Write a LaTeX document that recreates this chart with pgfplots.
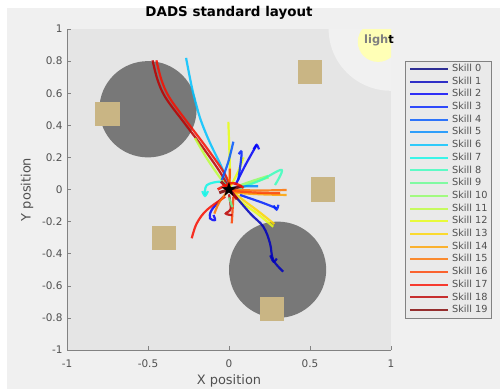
\documentclass[border=0pt]{standalone}
\usepackage{pgfplots}
\pgfplotsset{compat=1.18}
\usepackage{fontspec}
\setmainfont{DejaVu Sans}
\newfontfamily\symfont{DejaVu Sans}
\definecolor{figbg}{RGB}{240,240,240}
\definecolor{axbg}{RGB}{229,229,229}
\definecolor{lightbg}{RGB}{241,241,241}
\definecolor{lightyel}{RGB}{255,255,182}
\definecolor{obst}{RGB}{120,120,120}
\definecolor{box}{RGB}{201,181,132}
\definecolor{axgray}{RGB}{130,130,130}
\definecolor{txtgray}{RGB}{80,80,80}
\definecolor{legbg}{RGB}{234,234,234}
\definecolor{s0}{rgb}{0,0,0.5}
\definecolor{s1}{rgb}{0,0,0.74}
\definecolor{s2}{rgb}{0,0,0.98}
\definecolor{s3}{rgb}{0,0.13,1}
\definecolor{s4}{rgb}{0,0.34,1}
\definecolor{s5}{rgb}{0,0.55,1}
\definecolor{s6}{rgb}{0,0.76,1}
\definecolor{s7}{rgb}{0.06,0.97,0.91}
\definecolor{s8}{rgb}{0.23,1,0.74}
\definecolor{s9}{rgb}{0.40,1,0.57}
\definecolor{s10}{rgb}{0.57,1,0.40}
\definecolor{s11}{rgb}{0.74,1,0.23}
\definecolor{s12}{rgb}{0.91,1,0.06}
\definecolor{s13}{rgb}{1,0.84,0}
\definecolor{s14}{rgb}{1,0.64,0}
\definecolor{s15}{rgb}{1,0.45,0}
\definecolor{s16}{rgb}{1,0.25,0}
\definecolor{s17}{rgb}{0.98,0.06,0}
\definecolor{s18}{rgb}{0.74,0,0}
\definecolor{s19}{rgb}{0.5,0,0}
\begin{document}
\begin{tikzpicture}
\fill[white] (0,0) rectangle (500bp,389bp);
\fill[figbg] (7bp,0) rectangle (500bp,381bp);
\begin{axis}[
  at={(67bp,39bp)}, anchor=south west,
  scale only axis, width=324bp, height=321bp,
  xmin=-1, xmax=1, ymin=-1, ymax=1,
  clip=false,
  axis x line*=bottom, axis y line*=left,
  axis line style={-, draw=axgray, line width=0.6bp},
  xtick={-1,-0.5,0,0.5,1},
  ytick={-1,-0.8,-0.6,-0.4,-0.2,0,0.2,0.4,0.6,0.8,1},
  tick align=inside, major tick length=4bp,
  tick style={draw=axgray, line width=0.6bp},
  /pgf/number format/assume math mode=true,
  tick label style={font=\fontsize{10.5}{12}\selectfont, text=txtgray},
  xticklabel style={anchor=center, yshift=-14bp},
  yticklabel style={anchor=east, xshift=-1bp},
  axis background/.style={fill=axbg},
  title={DADS standard layout},
  title style={at={(0.5,1)}, anchor=center, yshift=10bp, font=\fontsize{13.5}{15}\selectfont\bfseries},
  xlabel={X position}, ylabel={Y position},
  label style={font=\fontsize{13}{15}\selectfont, text=txtgray},
  xlabel style={at={(axis description cs:0.5,-0.0966)}, anchor=center},
  ylabel style={at={(axis description cs:-0.1235,0.5)}, anchor=center, rotate=0},
  legend style={at={(1.043,0.901)}, anchor=north west, fill=legbg, draw=axgray,
    font=\fontsize{9.8}{11}\selectfont, text=txtgray,
    nodes={inner sep=0pt, text height=7.5bp, text depth=2.2bp},
    row sep=3bp, column sep=3bp, inner xsep=4bp, inner ysep=3bp},
  legend cell align=left,
  legend image code/.code={\draw[#1] (0bp,0bp) -- (38bp,0bp);},
  traj/.style={line width=2.2bp, opacity=0.85, smooth, tension=0.6, no markers, forget plot},
]
\begin{scope}
\clip (rel axis cs:0,0) rectangle (rel axis cs:1,1);
\fill[lightbg] (axis cs:1,1) circle [radius=0.385];
\fill[lightyel] (axis cs:0.92,0.92) circle [radius=0.125];
\fill[obst] (axis cs:-0.5,0.5) circle [radius=0.3];
\fill[obst] (axis cs:0.3,-0.5) circle [radius=0.3];
\fill[box] (axis cs:-0.825,0.395) rectangle (axis cs:-0.675,0.545);
\fill[box] (axis cs:0.425,0.655) rectangle (axis cs:0.575,0.805);
\fill[box] (axis cs:0.505,-0.075) rectangle (axis cs:0.655,0.075);
\fill[box] (axis cs:-0.475,-0.375) rectangle (axis cs:-0.325,-0.225);
\fill[box] (axis cs:0.19,-0.82) rectangle (axis cs:0.34,-0.67);
\end{scope}
% legend entries
\addlegendimage{s0, line width=2bp, opacity=0.8}\addlegendentry{Skill 0}
\addlegendimage{s1, line width=2bp, opacity=0.8}\addlegendentry{Skill 1}
\addlegendimage{s2, line width=2bp, opacity=0.8}\addlegendentry{Skill 2}
\addlegendimage{s3, line width=2bp, opacity=0.8}\addlegendentry{Skill 3}
\addlegendimage{s4, line width=2bp, opacity=0.8}\addlegendentry{Skill 4}
\addlegendimage{s5, line width=2bp, opacity=0.8}\addlegendentry{Skill 5}
\addlegendimage{s6, line width=2bp, opacity=0.8}\addlegendentry{Skill 6}
\addlegendimage{s7, line width=2bp, opacity=0.8}\addlegendentry{Skill 7}
\addlegendimage{s8, line width=2bp, opacity=0.8}\addlegendentry{Skill 8}
\addlegendimage{s9, line width=2bp, opacity=0.8}\addlegendentry{Skill 9}
\addlegendimage{s10, line width=2bp, opacity=0.8}\addlegendentry{Skill 10}
\addlegendimage{s11, line width=2bp, opacity=0.8}\addlegendentry{Skill 11}
\addlegendimage{s12, line width=2bp, opacity=0.8}\addlegendentry{Skill 12}
\addlegendimage{s13, line width=2bp, opacity=0.8}\addlegendentry{Skill 13}
\addlegendimage{s14, line width=2bp, opacity=0.8}\addlegendentry{Skill 14}
\addlegendimage{s15, line width=2bp, opacity=0.8}\addlegendentry{Skill 15}
\addlegendimage{s16, line width=2bp, opacity=0.8}\addlegendentry{Skill 16}
\addlegendimage{s17, line width=2bp, opacity=0.8}\addlegendentry{Skill 17}
\addlegendimage{s18, line width=2bp, opacity=0.8}\addlegendentry{Skill 18}
\addlegendimage{s19, line width=2bp, opacity=0.8}\addlegendentry{Skill 19}
% trajectories
\addplot[traj, s6] coordinates {(0,0) (-0.014,0.058) (-0.05,0.15) (-0.117,0.29) (-0.17,0.42) (-0.2,0.52) (-0.23,0.64) (-0.265,0.82)};
\addplot[traj, s18] coordinates {(0,0) (-0.05,0.1) (-0.16,0.26) (-0.28,0.42) (-0.39,0.57) (-0.44,0.68) (-0.472,0.805)};
\addplot[traj, s17] coordinates {(0.012,0) (-0.028,0.1) (-0.138,0.26) (-0.258,0.42) (-0.366,0.57) (-0.416,0.68) (-0.448,0.805)};
\addplot[traj, s11] coordinates {(0,0) (-0.06,0.08) (-0.137,0.194) (-0.21,0.32)};
\addplot[traj, s12] coordinates {(0,0) (0.006,0.1) (0.002,0.25) (-0.004,0.422)};
\addplot[traj, s12] coordinates {(0.02,-0.03) (0.09,-0.09) (0.171,-0.148) (0.273,-0.232)};
\addplot[traj, s13] coordinates {(0.03,-0.02) (0.1,-0.075) (0.18,-0.135) (0.28,-0.215)};
\addplot[traj, s12] coordinates {(0.01,0.02) (0.06,0.12) (0.09,0.2)};
\addplot[traj, s2] coordinates {(0.04,0.028) (0.1,0.15) (0.171,0.278)};
\addplot[traj, s2, smooth=false] coordinates {(0.152,0.25) (0.171,0.278) (0.185,0.25)};
\addplot[traj, s4] coordinates {(-0.045,0.059) (-0.005,0.17) (0.027,0.298)};
\addplot[traj, s3] coordinates {(0.057,0.059) (0.07,0.15) (0.078,0.235) (0.06,0.22)};
\addplot[traj, s10, line width=3.8bp] coordinates {(0.057,0.017) (0.15,0.05) (0.243,0.08)};
\addplot[traj, s8] coordinates {(0.068,0.008) (0.2,0.06) (0.325,0.122) (0.284,0.028)};
\addplot[traj, s7] coordinates {(-0.02,0.03) (-0.056,0.049) (-0.137,0.027) (-0.148,-0.034)};
\addplot[traj, s7, smooth=false] coordinates {(-0.165,-0.01) (-0.148,-0.04) (-0.13,-0.01)};
\addplot[traj, s5] coordinates {(0.02,0.01) (0.1,0.02) (0.18,0.02)};
\addplot[traj, s15] coordinates {(0.006,-0.003) (0.2,-0.006) (0.356,-0.003)};
\addplot[traj, s14] coordinates {(0.02,-0.02) (0.2,-0.03) (0.356,-0.034)};
\addplot[traj, s16] coordinates {(0.02,-0.01) (0.18,-0.02) (0.315,-0.024)};
\addplot[traj, s3] coordinates {(0.068,-0.034) (0.2,-0.08) (0.294,-0.117)};
\addplot[traj, s3, smooth=false] coordinates {(0.275,-0.1) (0.294,-0.125) (0.305,-0.095)};
\addplot[traj, s1] coordinates {(0.006,-0.003) (0.13,-0.148) (0.212,-0.232) (0.253,-0.335) (0.273,-0.439) (0.335,-0.512)};
\addplot[traj, s1, smooth=false] coordinates {(0.255,-0.41) (0.275,-0.45) (0.295,-0.43)};
\addplot[traj, s2] coordinates {(-0.035,-0.045) (-0.107,-0.128) (-0.117,-0.18) (-0.086,-0.19) (-0.096,-0.159)};
\addplot[traj, s17] coordinates {(-0.023,-0.045) (-0.137,-0.128) (-0.199,-0.211) (-0.23,-0.304)};
\addplot[traj, s16] coordinates {(0.027,-0.045) (0.022,-0.13) (0.017,-0.211)};
\addplot[traj, s18] coordinates {(0.0,-0.03) (0.01,-0.12) (-0.02,-0.15) (0.02,-0.16)};
\addplot[traj, s9] coordinates {(0.0,-0.05) (0.01,-0.08) (0.02,-0.11)};
\addplot[traj, s16] coordinates {(0,0) (0.004,0.07) (0.005,0.13)};
\addplot[traj, s15] coordinates {(0,0) (-0.06,-0.08) (-0.09,-0.15)};
\addplot[traj, s19, line width=3bp] coordinates {(-0.06,-0.02) (0,0) (0.08,0.02)};
\addplot[traj, s18, line width=3bp] coordinates {(-0.05,0.05) (0,0) (0.05,-0.06)};
\addplot[traj, s17, line width=2.6bp] coordinates {(-0.07,0.0) (0.02,0.04) (0.09,0.01)};
\addplot[only marks, mark=text, text mark={\symfont\fontsize{20}{20}\selectfont ★}, forget plot] coordinates {(0,0)};
\node[font=\fontsize{11.5}{12}\selectfont\bfseries, text=black] at (axis cs:0.926,0.931) {\textcolor{gray}{ligh}t};
\end{axis}
\end{tikzpicture}
\end{document}
